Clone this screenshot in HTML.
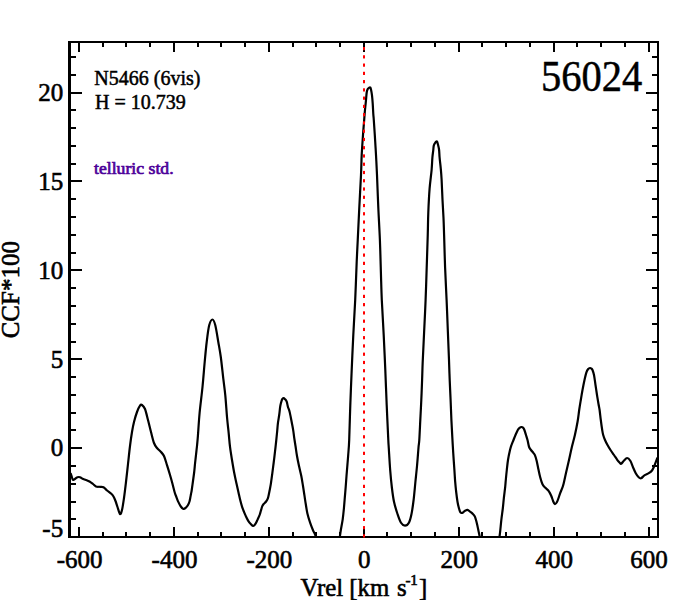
<!DOCTYPE html>
<html><head><meta charset="utf-8"><style>
html,body{margin:0;padding:0;background:#fff;}
svg{display:block;}
</style></head><body>
<svg width="675" height="600" viewBox="0 0 675 600">
<rect width="675" height="600" fill="#fff"/>
<defs><clipPath id="pc"><rect x="68" y="41" width="591" height="497"/></clipPath></defs>
<path clip-path="url(#pc)" d="M70.5,473 C70.67,473.5 71.08,474.87 71.5,476 C71.92,477.13 72.33,479.38 73,479.8 C73.67,480.22 74.75,478.93 75.5,478.5 C76.25,478.07 76.75,477.42 77.5,477.2 C78.25,476.98 79.17,476.93 80,477.2 C80.83,477.47 81.5,478.33 82.5,478.8 C83.5,479.27 84.83,479.55 86,480 C87.17,480.45 88.33,480.83 89.5,481.5 C90.67,482.17 91.92,483.17 93,484 C94.08,484.83 94.83,486.03 96,486.5 C97.17,486.97 98.75,486.68 100,486.8 C101.25,486.92 102.33,486.58 103.5,487.2 C104.67,487.82 105.75,489.45 107,490.5 C108.25,491.55 109.92,492.5 111,493.5 C112.08,494.5 112.75,495.25 113.5,496.5 C114.25,497.75 114.83,499.25 115.5,501 C116.17,502.75 116.75,504.83 117.5,507 C118.25,509.17 119.25,513.5 120,514 C120.75,514.5 121.33,512.67 122,510 C122.67,507.33 123.33,502.67 124,498 C124.67,493.33 125.33,487.67 126,482 C126.67,476.33 127.33,470 128,464 C128.67,458 129.33,451.33 130,446 C130.67,440.67 131.33,436 132,432 C132.67,428 133.17,425.33 134,422 C134.83,418.67 136,414.73 137,412 C138,409.27 139.17,406.77 140,405.6 C140.83,404.43 141.17,404.43 142,405 C142.83,405.57 144,406.5 145,409 C146,411.5 147,416.17 148,420 C149,423.83 150,428.17 151,432 C152,435.83 153,440.33 154,443 C155,445.67 155.83,446.5 157,448 C158.17,449.5 159.83,450.67 161,452 C162.17,453.33 163,453.8 164,456 C165,458.2 166.03,462.15 167,465.2 C167.97,468.25 168.9,471.25 169.8,474.3 C170.7,477.35 171.57,480.43 172.4,483.5 C173.23,486.57 174.12,490.4 174.8,492.7 C175.48,495 175.92,495.77 176.5,497.3 C177.08,498.83 177.58,500.37 178.3,501.9 C179.02,503.43 179.92,505.32 180.8,506.5 C181.68,507.68 182.73,508.83 183.6,509 C184.47,509.17 185.27,508.17 186,507.5 C186.73,506.83 187.42,506 188,505 C188.58,504 189.12,502.67 189.5,501.5 C189.88,500.33 190,499.25 190.25,498 C190.5,496.75 190.75,495.33 191,494 C191.25,492.67 191.42,492.17 191.75,490 C192.08,487.83 192.59,484 193,481 C193.41,478 193.85,475 194.2,472 C194.55,469 194.78,466 195.1,463 C195.42,460 195.77,457 196.1,454 C196.43,451 196.8,448 197.1,445 C197.4,442 197.48,441.33 197.9,436 C198.32,430.67 198.83,421.17 199.6,413 C200.37,404.83 201.65,395.5 202.5,387 C203.35,378.5 204,369.5 204.7,362 C205.4,354.5 205.95,348.12 206.7,342 C207.45,335.88 208.23,329.05 209.2,325.3 C210.17,321.55 211.48,319.5 212.5,319.5 C213.52,319.5 214.33,321.55 215.3,325.3 C216.27,329.05 217.38,336.72 218.3,342 C219.22,347.28 219.97,350.88 220.8,357 C221.63,363.12 222.55,372.32 223.3,378.7 C224.05,385.08 224.67,388.75 225.3,395.3 C225.93,401.85 226.53,411.67 227.1,418 C227.67,424.33 228.22,428.52 228.7,433.3 C229.18,438.08 229.45,442.25 230,446.7 C230.55,451.15 231.28,455.57 232,460 C232.72,464.43 233.53,469.3 234.3,473.3 C235.07,477.3 235.88,480.72 236.6,484 C237.32,487.28 237.97,490.2 238.6,493 C239.23,495.8 239.82,498.5 240.4,500.8 C240.98,503.1 241.53,505.03 242.1,506.8 C242.67,508.57 243.22,509.93 243.8,511.4 C244.38,512.87 244.86,514.03 245.6,515.6 C246.34,517.17 247.35,519.35 248.25,520.8 C249.15,522.25 250.18,523.43 251,524.3 C251.82,525.17 252.43,526.12 253.2,526 C253.97,525.88 254.85,524.7 255.6,523.6 C256.35,522.5 257,520.92 257.7,519.4 C258.4,517.88 259.22,516.13 259.8,514.5 C260.38,512.87 260.78,511 261.2,509.6 C261.62,508.2 261.89,507.03 262.3,506.1 C262.71,505.17 263.02,504.77 263.65,504 C264.28,503.23 265.4,502.43 266.1,501.5 C266.8,500.57 267.4,499.57 267.85,498.4 C268.3,497.23 268.51,495.82 268.8,494.5 C269.09,493.18 269.27,492.22 269.6,490.5 C269.93,488.78 270.35,487.07 270.8,484.2 C271.25,481.33 271.82,476.92 272.3,473.3 C272.78,469.68 273.25,466.1 273.7,462.5 C274.15,458.9 274.58,455.32 275,451.7 C275.42,448.08 275.83,444.25 276.2,440.8 C276.57,437.35 276.92,433.92 277.2,431 C277.48,428.08 277.57,425.97 277.9,423.3 C278.23,420.63 278.82,417.77 279.2,415 C279.58,412.23 279.88,408.78 280.2,406.7 C280.52,404.62 280.78,403.72 281.1,402.5 C281.42,401.28 281.7,400.12 282.1,399.4 C282.5,398.68 283.02,398.23 283.5,398.2 C283.98,398.17 284.47,398.62 285,399.2 C285.53,399.78 286.22,400.45 286.7,401.7 C287.18,402.95 287.42,405.03 287.9,406.7 C288.38,408.37 289.12,409.9 289.6,411.7 C290.08,413.5 290.38,415.42 290.8,417.5 C291.22,419.58 291.68,421.98 292.1,424.2 C292.52,426.42 292.93,428.45 293.3,430.8 C293.67,433.15 293.93,435.77 294.3,438.3 C294.67,440.83 295.05,443.05 295.5,446 C295.95,448.95 296.42,452.67 297,456 C297.58,459.33 298.28,462.67 299,466 C299.72,469.33 300.63,472.67 301.3,476 C301.97,479.33 302.48,482.8 303,486 C303.52,489.2 303.93,492.15 304.4,495.2 C304.87,498.25 305.3,501.25 305.8,504.3 C306.3,507.35 306.68,510.43 307.4,513.5 C308.12,516.57 309.18,519.95 310.1,522.7 C311.02,525.45 312.13,528.17 312.9,530 C313.67,531.83 314.02,532.03 314.7,533.7 C315.38,535.37 316.28,538.12 317,540 C317.72,541.88 315.42,544.17 319,545 C322.58,545.83 335,546.57 338.5,545 C342,543.43 339.62,538.07 340,535.6 C340.38,533.13 340.35,532.92 340.8,530.2 C341.25,527.48 342.18,522.92 342.7,519.3 C343.22,515.68 343.55,512.1 343.9,508.5 C344.25,504.9 344.5,501.32 344.8,497.7 C345.1,494.08 345.42,490.42 345.7,486.8 C345.98,483.18 346.22,479.63 346.5,476 C346.78,472.37 347.12,468.5 347.4,465 C347.68,461.5 347.9,459.17 348.2,455 C348.5,450.83 348.85,448.33 349.2,440 C349.55,431.67 349.88,416.67 350.3,405 C350.72,393.33 351.2,381.67 351.7,370 C352.2,358.33 352.72,346.67 353.3,335 C353.88,323.33 354.63,312.22 355.2,300 C355.77,287.78 356.27,271.7 356.7,261.7 C357.12,251.7 357.32,249.03 357.75,240 C358.18,230.97 358.76,218.33 359.3,207.5 C359.84,196.67 360.6,183.75 361,175 C361.4,166.25 361.37,161.67 361.7,155 C362.03,148.33 362.57,141.12 363,135 C363.43,128.88 364,122.13 364.3,118.3 C364.6,114.47 364.62,114.05 364.8,112 C364.98,109.95 365.2,108 365.4,106 C365.6,104 365.78,102.25 366,100 C366.22,97.75 366.43,94.3 366.7,92.5 C366.97,90.7 367.18,90.02 367.6,89.2 C368.02,88.38 368.75,87.88 369.2,87.6 C369.65,87.32 369.98,87.1 370.3,87.5 C370.62,87.9 370.82,88.7 371.1,90 C371.38,91.3 371.73,93.08 372,95.3 C372.27,97.52 372.48,100.18 372.7,103.3 C372.92,106.42 373.12,111.22 373.3,114 C373.48,116.78 373.55,116.5 373.8,120 C374.05,123.5 374.43,129.17 374.8,135 C375.17,140.83 375.63,148.33 376,155 C376.37,161.67 376.62,166.25 377,175 C377.38,183.75 377.82,196.67 378.3,207.5 C378.78,218.33 379.47,229.17 379.9,240 C380.33,250.83 380.58,262.5 380.9,272.5 C381.22,282.5 381.33,289.58 381.8,300 C382.27,310.42 383.12,323.33 383.7,335 C384.28,346.67 384.8,358.33 385.3,370 C385.8,381.67 386.2,393.33 386.7,405 C387.2,416.67 387.96,432.92 388.3,440 C388.64,447.08 388.43,442.46 388.75,447.5 C389.07,452.54 389.68,463.54 390.2,470.25 C390.72,476.96 391.27,482.5 391.9,487.75 C392.53,493 393.07,497.38 394,501.75 C394.93,506.12 396.33,510.5 397.5,514 C398.67,517.5 399.75,520.8 401,522.75 C402.25,524.7 403.68,525.7 405,525.7 C406.32,525.7 407.82,524.7 408.9,522.75 C409.98,520.8 410.72,517.79 411.5,514 C412.28,510.21 412.96,505.25 413.6,500 C414.24,494.75 414.77,488.33 415.35,482.5 C415.93,476.67 416.58,470.83 417.1,465 C417.62,459.17 418.13,451.67 418.5,447.5 C418.87,443.33 419,444.58 419.3,440 C419.6,435.42 419.97,426.67 420.3,420 C420.63,413.33 421,406.67 421.3,400 C421.6,393.33 421.87,386.33 422.1,380 C422.33,373.67 422.37,369.92 422.7,362 C423.03,354.08 423.62,342.83 424.1,332.5 C424.58,322.17 425.17,310.83 425.6,300 C426.03,289.17 426.34,278.33 426.7,267.5 C427.06,256.67 427.48,244.17 427.75,235 C428.02,225.83 427.99,220.22 428.3,212.5 C428.61,204.78 429.05,195.78 429.6,188.7 C430.15,181.62 431.13,175.2 431.6,170 C432.07,164.8 432.13,160.7 432.4,157.5 C432.67,154.3 432.97,152.8 433.2,150.8 C433.43,148.8 433.47,146.83 433.8,145.5 C434.13,144.17 434.68,143.48 435.2,142.8 C435.72,142.12 436.42,141.03 436.9,141.4 C437.38,141.77 437.73,143.57 438.1,145 C438.47,146.43 438.85,147.92 439.1,150 C439.35,152.08 439.33,154.45 439.6,157.5 C439.88,160.55 440.42,164.63 440.75,168.3 C441.08,171.97 441.31,174.27 441.6,179.5 C441.89,184.73 442.18,193.28 442.5,199.7 C442.82,206.12 443.23,212.12 443.5,218 C443.77,223.88 443.83,226.75 444.1,235 C444.37,243.25 444.68,256.67 445.1,267.5 C445.52,278.33 446.13,289.17 446.6,300 C447.07,310.83 447.5,322.5 447.9,332.5 C448.3,342.5 448.7,352.08 449,360 C449.3,367.92 449.43,373.33 449.7,380 C449.97,386.67 450.32,393.33 450.6,400 C450.88,406.67 451.12,413.83 451.4,420 C451.68,426.17 452,431.58 452.3,437 C452.6,442.42 452.85,447 453.2,452.5 C453.55,458 454.08,465.28 454.4,470 C454.72,474.72 454.79,477.05 455.1,480.8 C455.41,484.55 455.85,489.02 456.25,492.5 C456.65,495.98 457.08,499.2 457.5,501.7 C457.92,504.2 458.3,505.78 458.75,507.5 C459.2,509.22 459.74,511.08 460.2,512 C460.66,512.92 461.03,512.92 461.5,513 C461.97,513.08 462.42,512.87 463,512.5 C463.58,512.13 464.25,511.25 465,510.8 C465.75,510.35 466.65,509.65 467.5,509.8 C468.35,509.95 469.27,511.07 470.1,511.7 C470.93,512.33 471.73,512.85 472.5,513.6 C473.27,514.35 474.12,515.13 474.7,516.2 C475.28,517.27 475.58,518.57 476,520 C476.42,521.43 476.85,523.3 477.2,524.8 C477.55,526.3 477.8,527.6 478.1,529 C478.4,530.4 478.72,531.78 479,533.2 C479.28,534.62 479.53,535.53 479.8,537.5 C480.07,539.47 477.57,543.42 480.6,545 C483.63,546.58 494.83,548.5 498,547 C501.17,545.5 499.22,538.8 499.6,536 C499.98,533.2 500,532.98 500.3,530.2 C500.6,527.42 500.98,522.92 501.4,519.3 C501.82,515.68 502.38,512.1 502.8,508.5 C503.22,504.9 503.5,501.32 503.9,497.7 C504.3,494.08 504.88,489.75 505.2,486.8 C505.52,483.85 505.53,482.8 505.8,480 C506.07,477.2 506.43,473.33 506.8,470 C507.17,466.67 507.47,463.33 508,460 C508.53,456.67 509.42,452.5 510,450 C510.58,447.5 510.92,446.67 511.5,445 C512.08,443.33 512.83,441.67 513.5,440 C514.17,438.33 514.78,436.67 515.5,435 C516.22,433.33 517.12,431.2 517.8,430 C518.48,428.8 518.98,428.3 519.6,427.8 C520.22,427.3 520.93,427.03 521.5,427 C522.07,426.97 522.55,427.18 523,427.6 C523.45,428.02 523.7,428.27 524.2,429.5 C524.7,430.73 525.45,433.25 526,435 C526.55,436.75 526.98,438 527.5,440 C528.02,442 528.45,445.25 529.1,447 C529.75,448.75 530.7,449.53 531.4,450.5 C532.1,451.47 532.72,452.02 533.3,452.8 C533.88,453.58 534.33,453.83 534.9,455.2 C535.47,456.57 536.12,458.67 536.7,461 C537.28,463.33 537.82,466.48 538.4,469.2 C538.98,471.92 539.52,474.78 540.2,477.3 C540.88,479.82 541.63,482.55 542.5,484.3 C543.37,486.05 544.33,486.63 545.4,487.8 C546.47,488.97 547.92,489.93 548.9,491.3 C549.88,492.67 550.62,494.43 551.3,496 C551.98,497.57 552.42,499.37 553,500.7 C553.58,502.03 554.07,503.82 554.75,504 C555.43,504.18 556.23,503.52 557.1,501.8 C557.98,500.08 559.13,496.03 560,493.7 C560.87,491.37 561.7,489.46 562.3,487.8 C562.9,486.14 562.97,486.3 563.6,483.75 C564.23,481.2 565.2,476.46 566.1,472.5 C567,468.54 568.06,464.17 569,460 C569.94,455.83 570.77,451.67 571.75,447.5 C572.73,443.33 573.92,439.33 574.9,435 C575.88,430.67 576.88,425.67 577.6,421.5 C578.32,417.33 578.67,413.58 579.2,410 C579.73,406.42 580.25,403.33 580.8,400 C581.35,396.67 581.88,393.33 582.5,390 C583.12,386.67 583.83,382.97 584.5,380 C585.17,377.03 585.88,374.03 586.5,372.2 C587.12,370.37 587.62,369.7 588.2,369 C588.78,368.3 589.47,368.07 590,368 C590.53,367.93 590.98,368.27 591.4,368.6 C591.82,368.93 592.07,368.93 592.5,370 C592.93,371.07 593.5,372.5 594,375 C594.5,377.5 595,381.67 595.5,385 C596,388.33 596.5,391.83 597,395 C597.5,398.17 598.07,401.5 598.5,404 C598.93,406.5 599.22,407.33 599.6,410 C599.98,412.67 600.37,416.67 600.8,420 C601.23,423.33 601.8,427.5 602.2,430 C602.6,432.5 602.73,433.33 603.2,435 C603.67,436.67 604.28,438.33 605,440 C605.72,441.67 606.58,443.33 607.5,445 C608.42,446.67 609.42,448.33 610.5,450 C611.58,451.67 612.88,453.37 614,455 C615.12,456.63 616.28,458.55 617.2,459.8 C618.12,461.05 618.83,461.83 619.5,462.5 C620.17,463.17 620.48,464.09 621.2,463.8 C621.92,463.51 622.82,461.72 623.8,460.75 C624.78,459.78 626.02,458 627.1,458 C628.18,458 629.32,459.21 630.3,460.75 C631.28,462.29 632.09,465.18 633,467.25 C633.91,469.32 634.83,471.57 635.75,473.2 C636.67,474.82 637.62,476.15 638.5,477 C639.38,477.85 640.02,478.57 641,478.3 C641.98,478.03 643.11,476.25 644.4,475.4 C645.69,474.55 647.48,474.02 648.75,473.2 C650.02,472.38 651.09,471.67 652,470.5 C652.91,469.33 653.48,467.82 654.2,466.2 C654.92,464.57 655.77,462.2 656.3,460.75 C656.83,459.3 657.22,458.04 657.4,457.5" fill="none" stroke="#000" stroke-width="2.2" stroke-linejoin="round"/>
<rect x="68" y="41" width="591" height="2" fill="#000"/>
<rect x="68" y="536" width="591" height="2" fill="#000"/>
<rect x="68" y="41" width="3" height="497" fill="#000"/>
<rect x="657" y="41" width="2" height="497" fill="#000"/>
<rect x="78" y="43" width="2" height="9" fill="#000"/>
<rect x="78" y="527" width="2" height="9" fill="#000"/>
<rect x="102" y="43" width="2" height="4" fill="#000"/>
<rect x="102" y="532" width="2" height="4" fill="#000"/>
<rect x="125" y="43" width="2" height="4" fill="#000"/>
<rect x="125" y="532" width="2" height="4" fill="#000"/>
<rect x="149" y="43" width="2" height="4" fill="#000"/>
<rect x="149" y="532" width="2" height="4" fill="#000"/>
<rect x="173" y="43" width="2" height="9" fill="#000"/>
<rect x="173" y="527" width="2" height="9" fill="#000"/>
<rect x="197" y="43" width="2" height="4" fill="#000"/>
<rect x="197" y="532" width="2" height="4" fill="#000"/>
<rect x="220" y="43" width="2" height="4" fill="#000"/>
<rect x="220" y="532" width="2" height="4" fill="#000"/>
<rect x="244" y="43" width="2" height="4" fill="#000"/>
<rect x="244" y="532" width="2" height="4" fill="#000"/>
<rect x="268" y="43" width="2" height="9" fill="#000"/>
<rect x="268" y="527" width="2" height="9" fill="#000"/>
<rect x="292" y="43" width="2" height="4" fill="#000"/>
<rect x="292" y="532" width="2" height="4" fill="#000"/>
<rect x="315" y="43" width="2" height="4" fill="#000"/>
<rect x="315" y="532" width="2" height="4" fill="#000"/>
<rect x="339" y="43" width="2" height="4" fill="#000"/>
<rect x="339" y="532" width="2" height="4" fill="#000"/>
<rect x="363" y="43" width="2" height="9" fill="#000"/>
<rect x="363" y="527" width="2" height="9" fill="#000"/>
<rect x="386" y="43" width="2" height="4" fill="#000"/>
<rect x="386" y="532" width="2" height="4" fill="#000"/>
<rect x="410" y="43" width="2" height="4" fill="#000"/>
<rect x="410" y="532" width="2" height="4" fill="#000"/>
<rect x="434" y="43" width="2" height="4" fill="#000"/>
<rect x="434" y="532" width="2" height="4" fill="#000"/>
<rect x="458" y="43" width="2" height="9" fill="#000"/>
<rect x="458" y="527" width="2" height="9" fill="#000"/>
<rect x="481" y="43" width="2" height="4" fill="#000"/>
<rect x="481" y="532" width="2" height="4" fill="#000"/>
<rect x="505" y="43" width="2" height="4" fill="#000"/>
<rect x="505" y="532" width="2" height="4" fill="#000"/>
<rect x="529" y="43" width="2" height="4" fill="#000"/>
<rect x="529" y="532" width="2" height="4" fill="#000"/>
<rect x="553" y="43" width="2" height="9" fill="#000"/>
<rect x="553" y="527" width="2" height="9" fill="#000"/>
<rect x="576" y="43" width="2" height="4" fill="#000"/>
<rect x="576" y="532" width="2" height="4" fill="#000"/>
<rect x="600" y="43" width="2" height="4" fill="#000"/>
<rect x="600" y="532" width="2" height="4" fill="#000"/>
<rect x="624" y="43" width="2" height="4" fill="#000"/>
<rect x="624" y="532" width="2" height="4" fill="#000"/>
<rect x="648" y="43" width="2" height="9" fill="#000"/>
<rect x="648" y="527" width="2" height="9" fill="#000"/>
<rect x="71" y="518" width="5" height="2" fill="#000"/>
<rect x="652" y="518" width="5" height="2" fill="#000"/>
<rect x="71" y="501" width="5" height="2" fill="#000"/>
<rect x="652" y="501" width="5" height="2" fill="#000"/>
<rect x="71" y="483" width="5" height="2" fill="#000"/>
<rect x="652" y="483" width="5" height="2" fill="#000"/>
<rect x="71" y="465" width="5" height="2" fill="#000"/>
<rect x="652" y="465" width="5" height="2" fill="#000"/>
<rect x="71" y="447" width="11" height="2" fill="#000"/>
<rect x="646" y="447" width="11" height="2" fill="#000"/>
<rect x="71" y="429" width="5" height="2" fill="#000"/>
<rect x="652" y="429" width="5" height="2" fill="#000"/>
<rect x="71" y="412" width="5" height="2" fill="#000"/>
<rect x="652" y="412" width="5" height="2" fill="#000"/>
<rect x="71" y="394" width="5" height="2" fill="#000"/>
<rect x="652" y="394" width="5" height="2" fill="#000"/>
<rect x="71" y="376" width="5" height="2" fill="#000"/>
<rect x="652" y="376" width="5" height="2" fill="#000"/>
<rect x="71" y="358" width="11" height="2" fill="#000"/>
<rect x="646" y="358" width="11" height="2" fill="#000"/>
<rect x="71" y="341" width="5" height="2" fill="#000"/>
<rect x="652" y="341" width="5" height="2" fill="#000"/>
<rect x="71" y="323" width="5" height="2" fill="#000"/>
<rect x="652" y="323" width="5" height="2" fill="#000"/>
<rect x="71" y="305" width="5" height="2" fill="#000"/>
<rect x="652" y="305" width="5" height="2" fill="#000"/>
<rect x="71" y="287" width="5" height="2" fill="#000"/>
<rect x="652" y="287" width="5" height="2" fill="#000"/>
<rect x="71" y="269" width="11" height="2" fill="#000"/>
<rect x="646" y="269" width="11" height="2" fill="#000"/>
<rect x="71" y="252" width="5" height="2" fill="#000"/>
<rect x="652" y="252" width="5" height="2" fill="#000"/>
<rect x="71" y="234" width="5" height="2" fill="#000"/>
<rect x="652" y="234" width="5" height="2" fill="#000"/>
<rect x="71" y="216" width="5" height="2" fill="#000"/>
<rect x="652" y="216" width="5" height="2" fill="#000"/>
<rect x="71" y="198" width="5" height="2" fill="#000"/>
<rect x="652" y="198" width="5" height="2" fill="#000"/>
<rect x="71" y="180" width="11" height="2" fill="#000"/>
<rect x="646" y="180" width="11" height="2" fill="#000"/>
<rect x="71" y="163" width="5" height="2" fill="#000"/>
<rect x="652" y="163" width="5" height="2" fill="#000"/>
<rect x="71" y="145" width="5" height="2" fill="#000"/>
<rect x="652" y="145" width="5" height="2" fill="#000"/>
<rect x="71" y="127" width="5" height="2" fill="#000"/>
<rect x="652" y="127" width="5" height="2" fill="#000"/>
<rect x="71" y="109" width="5" height="2" fill="#000"/>
<rect x="652" y="109" width="5" height="2" fill="#000"/>
<rect x="71" y="92" width="11" height="2" fill="#000"/>
<rect x="646" y="92" width="11" height="2" fill="#000"/>
<rect x="71" y="74" width="5" height="2" fill="#000"/>
<rect x="652" y="74" width="5" height="2" fill="#000"/>
<rect x="71" y="56" width="5" height="2" fill="#000"/>
<rect x="652" y="56" width="5" height="2" fill="#000"/>
<rect x="363" y="47" width="2" height="3.2" fill="#ff0000"/>
<rect x="363" y="55.26" width="2" height="3.2" fill="#ff0000"/>
<rect x="363" y="63.52" width="2" height="3.2" fill="#ff0000"/>
<rect x="363" y="71.78" width="2" height="3.2" fill="#ff0000"/>
<rect x="363" y="80.04" width="2" height="3.2" fill="#ff0000"/>
<rect x="363" y="88.3" width="2" height="3.2" fill="#ff0000"/>
<rect x="363" y="96.56" width="2" height="3.2" fill="#ff0000"/>
<rect x="363" y="104.82" width="2" height="3.2" fill="#ff0000"/>
<rect x="363" y="113.08" width="2" height="3.2" fill="#ff0000"/>
<rect x="363" y="121.34" width="2" height="3.2" fill="#ff0000"/>
<rect x="363" y="129.6" width="2" height="3.2" fill="#ff0000"/>
<rect x="363" y="137.86" width="2" height="3.2" fill="#ff0000"/>
<rect x="363" y="146.12" width="2" height="3.2" fill="#ff0000"/>
<rect x="363" y="154.38" width="2" height="3.2" fill="#ff0000"/>
<rect x="363" y="162.64" width="2" height="3.2" fill="#ff0000"/>
<rect x="363" y="170.9" width="2" height="3.2" fill="#ff0000"/>
<rect x="363" y="179.16" width="2" height="3.2" fill="#ff0000"/>
<rect x="363" y="187.42" width="2" height="3.2" fill="#ff0000"/>
<rect x="363" y="195.68" width="2" height="3.2" fill="#ff0000"/>
<rect x="363" y="203.94" width="2" height="3.2" fill="#ff0000"/>
<rect x="363" y="212.2" width="2" height="3.2" fill="#ff0000"/>
<rect x="363" y="220.46" width="2" height="3.2" fill="#ff0000"/>
<rect x="363" y="228.72" width="2" height="3.2" fill="#ff0000"/>
<rect x="363" y="236.98" width="2" height="3.2" fill="#ff0000"/>
<rect x="363" y="245.24" width="2" height="3.2" fill="#ff0000"/>
<rect x="363" y="253.5" width="2" height="3.2" fill="#ff0000"/>
<rect x="363" y="261.76" width="2" height="3.2" fill="#ff0000"/>
<rect x="363" y="270.02" width="2" height="3.2" fill="#ff0000"/>
<rect x="363" y="278.28" width="2" height="3.2" fill="#ff0000"/>
<rect x="363" y="286.54" width="2" height="3.2" fill="#ff0000"/>
<rect x="363" y="294.8" width="2" height="3.2" fill="#ff0000"/>
<rect x="363" y="303.06" width="2" height="3.2" fill="#ff0000"/>
<rect x="363" y="311.32" width="2" height="3.2" fill="#ff0000"/>
<rect x="363" y="319.58" width="2" height="3.2" fill="#ff0000"/>
<rect x="363" y="327.84" width="2" height="3.2" fill="#ff0000"/>
<rect x="363" y="336.1" width="2" height="3.2" fill="#ff0000"/>
<rect x="363" y="344.36" width="2" height="3.2" fill="#ff0000"/>
<rect x="363" y="352.62" width="2" height="3.2" fill="#ff0000"/>
<rect x="363" y="360.88" width="2" height="3.2" fill="#ff0000"/>
<rect x="363" y="369.14" width="2" height="3.2" fill="#ff0000"/>
<rect x="363" y="377.4" width="2" height="3.2" fill="#ff0000"/>
<rect x="363" y="385.66" width="2" height="3.2" fill="#ff0000"/>
<rect x="363" y="393.92" width="2" height="3.2" fill="#ff0000"/>
<rect x="363" y="402.18" width="2" height="3.2" fill="#ff0000"/>
<rect x="363" y="410.44" width="2" height="3.2" fill="#ff0000"/>
<rect x="363" y="418.7" width="2" height="3.2" fill="#ff0000"/>
<rect x="363" y="426.96" width="2" height="3.2" fill="#ff0000"/>
<rect x="363" y="435.22" width="2" height="3.2" fill="#ff0000"/>
<rect x="363" y="443.48" width="2" height="3.2" fill="#ff0000"/>
<rect x="363" y="451.74" width="2" height="3.2" fill="#ff0000"/>
<rect x="363" y="460" width="2" height="3.2" fill="#ff0000"/>
<rect x="363" y="468.26" width="2" height="3.2" fill="#ff0000"/>
<rect x="363" y="476.52" width="2" height="3.2" fill="#ff0000"/>
<rect x="363" y="484.78" width="2" height="3.2" fill="#ff0000"/>
<rect x="363" y="493.04" width="2" height="3.2" fill="#ff0000"/>
<rect x="363" y="501.3" width="2" height="3.2" fill="#ff0000"/>
<rect x="363" y="509.56" width="2" height="3.2" fill="#ff0000"/>
<rect x="363" y="517.82" width="2" height="3.2" fill="#ff0000"/>
<rect x="363" y="526.08" width="2" height="3.2" fill="#ff0000"/>
<rect x="363" y="534.34" width="2" height="3.2" fill="#ff0000"/>
<text x="63.2" y="100.6" font-size="25" text-anchor="end" fill="#000" stroke="#000" stroke-width="0.6" style="font-family:'Liberation Serif',serif" >20</text>
<text x="63.2" y="189.5" font-size="25" text-anchor="end" fill="#000" stroke="#000" stroke-width="0.6" style="font-family:'Liberation Serif',serif" >15</text>
<text x="63.2" y="278.6" font-size="25" text-anchor="end" fill="#000" stroke="#000" stroke-width="0.6" style="font-family:'Liberation Serif',serif" >10</text>
<text x="63.2" y="367.5" font-size="25" text-anchor="end" fill="#000" stroke="#000" stroke-width="0.6" style="font-family:'Liberation Serif',serif" >5</text>
<text x="63.2" y="455.6" font-size="25" text-anchor="end" fill="#000" stroke="#000" stroke-width="0.6" style="font-family:'Liberation Serif',serif" >0</text>
<text x="63.2" y="536.5" font-size="25" text-anchor="end" fill="#000" stroke="#000" stroke-width="0.6" style="font-family:'Liberation Serif',serif" >-5</text>
<text x="79.59" y="568.3" font-size="25" text-anchor="middle" fill="#000" stroke="#000" stroke-width="0.6" style="font-family:'Liberation Serif',serif" >-600</text>
<text x="174.51" y="568.3" font-size="25" text-anchor="middle" fill="#000" stroke="#000" stroke-width="0.6" style="font-family:'Liberation Serif',serif" >-400</text>
<text x="269.43" y="568.3" font-size="25" text-anchor="middle" fill="#000" stroke="#000" stroke-width="0.6" style="font-family:'Liberation Serif',serif" >-200</text>
<text x="364.35" y="568.3" font-size="25" text-anchor="middle" fill="#000" stroke="#000" stroke-width="0.6" style="font-family:'Liberation Serif',serif" >0</text>
<text x="459.27" y="568.3" font-size="25" text-anchor="middle" fill="#000" stroke="#000" stroke-width="0.6" style="font-family:'Liberation Serif',serif" >200</text>
<text x="554.19" y="568.3" font-size="25" text-anchor="middle" fill="#000" stroke="#000" stroke-width="0.6" style="font-family:'Liberation Serif',serif" >400</text>
<text x="649.11" y="568.3" font-size="25" text-anchor="middle" fill="#000" stroke="#000" stroke-width="0.6" style="font-family:'Liberation Serif',serif" >600</text>
<text x="94.3" y="84.6" font-size="20" text-anchor="start" fill="#000" stroke="#000" stroke-width="0.5" style="font-family:'Liberation Serif',serif" >N5466 (6vis)</text>
<text x="95" y="108.5" font-size="20" text-anchor="start" fill="#000" stroke="#000" stroke-width="0.5" style="font-family:'Liberation Serif',serif" >H = 10.739</text>
<text x="94" y="174" font-size="17.7" text-anchor="start" fill="#4c0099" stroke="#4c0099" stroke-width="0.7" style="font-family:'Liberation Serif',serif" >telluric std.</text>
<text transform="translate(541,91) scale(0.9,1)" font-size="45" stroke="#000" stroke-width="0.5" style="font-family:'Liberation Serif',serif">56024</text>
<text transform="translate(19.1,338.3) rotate(-90)" font-size="25" stroke="#000" stroke-width="0.6" style="font-family:'Liberation Serif',serif">CCF*100</text>
<text x="300.5" y="595.5" font-size="24.8" stroke="#000" stroke-width="0.6" style="font-family:'Liberation Serif',serif">Vrel [km <tspan dx="1.5">s</tspan><tspan font-size="15" dx="-1.2" dy="-11">-1</tspan><tspan dx="1" dy="11">]</tspan></text>
</svg>
</body></html>
